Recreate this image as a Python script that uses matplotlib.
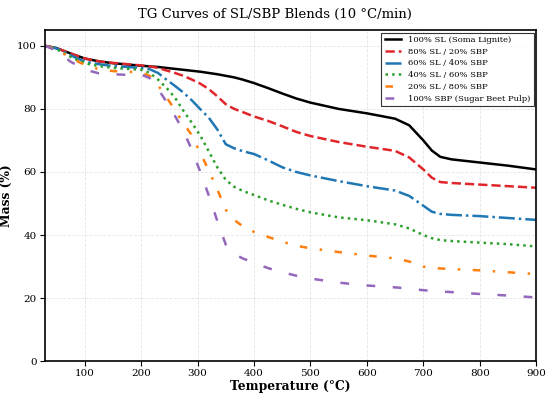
import matplotlib
matplotlib.use("Agg")
import matplotlib.pyplot as plt

# --- Data ---
temperature = [30, 50, 75, 100, 125, 150, 175, 200, 215, 230, 245, 260, 275, 290,
               305, 320, 335, 350, 365, 380, 400, 425, 450, 475, 500, 550, 600,
               650, 675, 700, 715, 730, 750, 800, 850, 900]

sl_100 = [100, 99.3, 97.6, 96.0, 95.1, 94.5, 94.1, 93.7, 93.5, 93.3, 93.0, 92.7,
          92.4, 92.1, 91.8, 91.4, 91.0, 90.5, 90.0, 89.3, 88.2, 86.6, 84.9, 83.3,
          82.0, 80.0, 78.6, 76.9, 74.8, 70.0, 66.8, 64.8, 64.0, 63.0, 62.0, 60.8]

sl80_sbp20 = [100, 99.3, 97.6, 96.0, 95.1, 94.6, 94.2, 93.8, 93.5, 93.0, 92.2, 91.4,
              90.5, 89.3, 88.0, 86.3, 84.0, 81.5, 80.0, 79.0, 77.6, 76.2, 74.5, 72.7,
              71.4, 69.5, 68.0, 66.7, 64.6, 60.8, 58.2, 56.8, 56.5, 56.0, 55.5, 55.0]

sl60_sbp40 = [100, 99.2, 97.0, 95.0, 94.2, 93.6, 93.3, 93.0, 92.6, 91.4, 89.3, 87.3,
              85.2, 82.7, 79.9, 77.2, 73.5, 68.8, 67.5, 66.6, 65.7, 63.7, 61.5, 60.0,
              58.9, 57.1, 55.5, 54.1, 52.4, 49.3, 47.4, 46.7, 46.4, 46.0, 45.4, 44.8]

sl40_sbp60 = [100, 99.0, 96.5, 94.5, 93.6, 93.0, 92.7, 92.4, 91.5, 89.3, 86.7, 83.6,
              79.4, 75.6, 71.5, 66.5, 61.5, 57.5, 55.3, 54.0, 52.7, 51.0, 49.6, 48.3,
              47.2, 45.6, 44.7, 43.4, 42.1, 40.0, 39.0, 38.4, 38.1, 37.6, 37.1, 36.4]

sl20_sbp80 = [100, 98.9, 96.2, 94.0, 92.6, 92.0, 91.8, 91.6, 90.5, 87.5, 83.7, 79.7,
              75.5, 71.6, 66.0, 60.5, 54.5, 48.0, 44.8, 42.8, 41.0, 39.4, 37.9, 36.6,
              35.8, 34.6, 33.5, 32.6, 31.6, 30.0, 29.6, 29.4, 29.2, 28.8, 28.2, 27.6]

sbp_100 = [100, 98.5, 95.0, 92.5, 91.3, 91.0, 90.8, 90.9, 89.8, 86.3, 82.3, 77.8,
           73.0, 67.0, 60.0, 52.5, 44.5, 37.0, 34.0, 32.6, 31.2, 29.5, 28.2, 27.1,
           26.2, 24.9, 24.0, 23.4, 23.0, 22.5, 22.3, 22.1, 21.9, 21.3, 20.8, 20.2]

labels = ["100% SL (Soma Lignite)", "80% SL / 20% SBP", "60% SL / 40% SBP",
          "40% SL / 60% SBP", "20% SL / 80% SBP", "100% SBP (Sugar Beet Pulp)"]
series = [sl_100, sl80_sbp20, sl60_sbp40, sl40_sbp60, sl20_sbp80, sbp_100]

colors = ["black", "#e0262b", "#1f77b4", "#2ca02c", "#ff7f0e", "#9467bd"]
styles = ["-", "--", "-.", ":", (0, (3, 5, 1, 5)), (0, (3.5, 7))]

plt.rcParams["font.family"] = "DejaVu Serif"

fig = plt.figure(figsize=(5.5, 3.96), dpi=100)
ax = fig.add_axes([0.082, 0.088, 0.893, 0.836])

for vals, lab, c, ls in zip(series, labels, colors, styles):
    ax.plot(temperature, vals, color=c, linestyle=ls, linewidth=1.8, label=lab)

ax.set_xlim(30, 900)
ax.set_ylim(0, 105)
ax.set_xticks(range(100, 901, 100))
ax.set_yticks(range(0, 101, 20))
ax.tick_params(labelsize=7.5, pad=2.5)
ax.grid(True, linestyle="--", color="#cccccc", alpha=0.5, linewidth=0.6)

for sp in ax.spines.values():
    sp.set_linewidth(1.2)

ax.set_xlabel("Temperature (°C)", fontsize=8.8, fontweight="bold", labelpad=1)
ax.set_ylabel("Mass (%)", fontsize=8.8, fontweight="bold", labelpad=3)
fig.suptitle("TG Curves of SL/SBP Blends (10 °C/min)", fontsize=9.5, x=0.5, y=0.98)

leg = ax.legend(loc="upper right", fontsize=6.0, frameon=True, fancybox=False,
                edgecolor="black", borderaxespad=0.3, labelspacing=0.45)
leg.get_frame().set_linewidth(0.8)

fig.savefig("out.png", dpi=100)
